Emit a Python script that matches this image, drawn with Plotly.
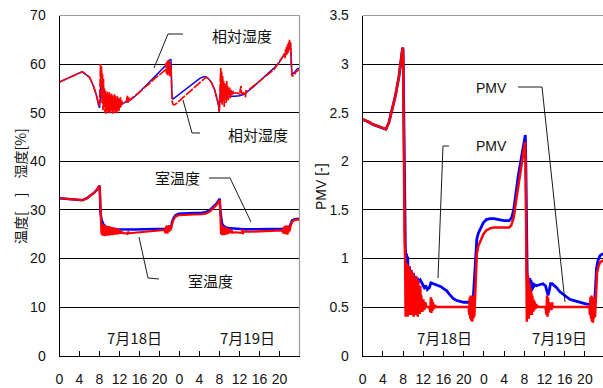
import plotly.graph_objects as go

W, H = 603, 388

# ---------------- data (hours since 7/18 0:00) ----------------
xtick_vals = [0, 4, 8, 12, 16, 20, 24, 28, 32, 36, 40, 44]
xtick_text = ["0", "4", "8", "12", "16", "20", "0", "4", "8", "12", "16", "20"]

rh_blue = [(0,56.3),(1,56.8),(2,57.3),(3,57.8),(4,58.2),(4.6,58.4),(5.2,58.0),(6,57.3),(6.8,55.5),(7.4,53.6),(7.8,51.5),(8.0,51.0),
           (8.1,52),(8.3,56),(8.5,53),(8.8,52.5),(9.5,52),(10.5,51.8),(11.5,51.6),(12.5,51.8),(13.5,52.2),(14,52.5),(15,53.3),(16,54.2),
           (17,55.3),(18,56.3),(19,57.4),(20,58.4),(20.8,59.3),(21.5,60),(22,60.8),(22.3,61),(22.4,57),(22.5,53.5),(22.7,52.8),(23.2,53.2),
           (24,53.8),(25,54.6),(26,55.4),(27,56.2),(28,57),(28.8,57.4),(29.3,57.4),(29.8,57),(30.4,56.2),(31,54.8),(31.5,53),(31.8,51.5),
           (31.95,50.2),(32.1,53),(32.3,57),(32.5,53.5),(33,52.8),(33.5,53.2),(34,53.4),(35,53.4),(36,53.5),(37,53.8),(38,54.6),(39,55.5),
           (40,56.5),(41,57.4),(42,58.3),(43,59.3),(44,60.4),(45,62),(45.5,62.8),(46,63.2),(46.2,64.4),(46.35,60),(46.5,57.8),(47,58.3),
           (47.5,59),(48,59.2)]

rh_red = [(0,56.3),(1,56.8),(2,57.3),(3,57.8),(4,58.2),(4.6,58.4),(5.2,58.0),(6,57.3),(6.8,55.5),(7.4,53.6),(7.8,52.0),(8.0,51.3),
          (8.1,55),(8.2,60.0),(8.3,57),(8.4,59.5),(8.5,52),(8.6,58),(8.7,50.5),(8.8,57),(8.9,51),(9.0,55),
          (9.1,50),(9.2,54.5),(9.3,49.8),(9.4,54),(9.5,50.5),(9.6,54.3),(9.7,50),(9.8,53.8),(9.9,50.2),(10.0,54.2),(10.1,49.9),(10.2,53.5),
          (10.3,50.5),(10.4,54),(10.5,50.2),(10.6,53.6),(10.7,49.8),(10.8,53.2),(10.9,50.6),(11.0,53.8),(11.1,50),(11.2,53.5),(11.3,50.4),
          (11.4,53),(11.5,49.9),(11.6,53.4),(11.7,50.8),(11.8,53),(11.9,50.3),(12.0,52.8),(12.1,51),(12.2,53.2),(12.3,51.2),(12.4,52.5),
          (12.6,51.8),(13,52.2),(13.4,52.4),(13.6,53.5),(13.7,52),(13.8,53.2),(14,52.6),(15,53.4),(16,54.2),(17,55.2),(18,56.0),(19,57),
          (20,57.8),(20.8,58.3),(21.2,58.8),(21.3,60.2),(21.4,58),(21.5,60.5),(21.6,57.6),(21.7,60.8),(21.8,58.2),(21.9,61),(22.0,57.5),
          (22.1,60.5),(22.2,58),(22.3,59.5),(22.4,55),(22.5,52.5),(22.7,51.7),(23,51.6),(23.5,52),(24,52.5),(25,53.4),(26,54.3),(27,55.2),
          (28,56.2),(28.8,57),(29.3,57.3),(29.8,57),(30.4,56.2),(31,54.8),(31.5,53),(31.8,51.8),(31.95,50.2),
          (32.05,53),(32.15,57),(32.25,59.2),(32.35,52),(32.45,58.5),(32.55,51.5),(32.65,57.5),(32.75,52.5),(32.85,56.5),(32.95,51.2),
          (33.05,56),(33.15,52.8),(33.25,55.8),(33.35,52),(33.45,56.5),(33.55,53),(33.65,55.5),(33.75,52.5),(33.85,55),(33.95,53.5),
          (34.05,55.2),(34.15,53),(34.3,54.8),(34.45,53.6),(34.6,54.6),(34.8,54),(35.5,54.1),(36,53.8),(36.3,55.5),(36.4,53.9),(36.8,54.1),
          (37.2,53.2),(37.3,54.5),(37.6,54.5),(38.2,55),(38.8,55.5),(39.5,56.2),(40.2,56.8),(40.8,57.3),(41.5,57.9),(42.2,58.4),(42.8,58.8),
          (43.4,59.6),(44,60.5),(44.4,61.2),(44.8,61.8),(45,62.3),(45.1,61.2),(45.2,63),(45.3,61.8),(45.4,63.5),(45.5,62),(45.6,64),
          (45.7,62.3),(45.8,64.5),(45.9,62.8),(46,65),(46.1,63),(46.2,64.5),(46.35,60),(46.5,57.6),(46.8,57.6),(47,58),(47.3,58.4),
          (47.6,58.6),(48,59)]

temp_blue = [(0,32.4),(1,32.3),(2,32.2),(3,32.1),(4,32.0),(4.6,32.0),(5.5,32.4),(6.3,33),(7,33.6),(7.6,34.3),(8.0,35.0),(8.1,33),
             (8.2,29.5),(8.4,28),(8.6,27.5),(8.8,27),(9.2,26.6),(9.8,26.3),(10.5,26.1),(11.5,26.0),(13,25.95),(15,25.95),(17,26),(19,26),
             (21,26.05),(22,26.1),(22.3,26.3),(22.5,27.5),(22.8,28.3),(23.2,28.9),(23.8,29.2),(25,29.3),(27,29.35),(28.5,29.4),(29.2,29.5),
             (30,29.9),(30.8,30.6),(31.4,31.3),(31.9,32.1),(32.05,32.3),(32.15,30),(32.3,28),(32.5,27.2),(32.8,26.7),(33.3,26.4),(34,26.2),
             (35,26.1),(37,26),(39,26),(41,26),(43,26),(45,26),(45.9,26.1),(46.2,27),(46.5,27.8),(47,28.1),(47.5,28.2),(48,28.2)]

temp_red = [(0,32.4),(1,32.3),(2,32.2),(3,32.1),(4,32.0),(4.6,32.0),(5.5,32.4),(6.3,33),(7,33.6),(7.6,34.3),(8.0,35.0),(8.1,33),
            (8.2,29),(8.3,27.5),(8.4,25),(8.5,27.2),(8.6,24.7),(8.7,27),(8.8,24.8),(8.9,26.8),(9.0,24.6),(9.1,26.9),(9.2,24.8),(9.3,26.5),
            (9.4,24.7),(9.5,26.7),(9.6,24.9),(9.7,26.4),(9.8,24.7),(9.9,26.6),(10.0,24.9),(10.1,26.3),(10.2,24.8),(10.3,26.5),(10.4,25),
            (10.5,26.2),(10.6,24.8),(10.7,26.4),(10.8,25),(10.9,26.1),(11.0,24.9),(11.1,26.3),(11.2,25.1),(11.3,26),(11.4,24.9),(11.5,26.2),
            (11.6,25.1),(11.7,25.9),(11.8,25),(11.9,26),(12.0,25.2),(12.1,25.8),(12.2,25.1),(12.4,25.6),(12.7,25.2),(13.5,25.2),(13.6,24.9),
            (13.7,25.5),(14,25.2),(15,25.3),(16,25.4),(17,25.5),(18,25.6),(19,25.7),(20,25.8),(21,25.9),(21.2,25.2),(21.3,26.6),(21.4,25.3),
            (21.5,26.8),(21.6,25.1),(21.7,26.7),(21.8,25.4),(21.9,26.9),(22,25.6),(22.1,26.5),(22.2,25.8),(22.3,26.4),(22.5,27),(22.8,28),
            (23.2,28.6),(23.8,28.9),(25,29.0),(27,29.05),(28.5,29.1),(29.2,29.2),(30,29.6),(30.8,30.3),(31.4,31),(31.9,31.8),(32.05,32),
            (32.15,30),(32.25,27.5),(32.3,25),(32.4,27),(32.5,24.8),(32.6,26.8),(32.7,24.9),(32.8,26.6),(32.9,24.8),(33.0,26.5),(33.1,25),
            (33.2,26.4),(33.3,24.9),(33.4,26.3),(33.5,25.1),(33.6,26.2),(33.7,25),(33.8,26),(33.9,25.2),(34.0,26.1),(34.2,25.2),(34.4,25.9),
            (34.6,25.3),(35,25.4),(36,25.4),(36.5,25.3),(36.6,26),(36.7,25),(36.8,25.6),(37.5,25.5),(38.5,25.5),(40,25.6),(41.5,25.7),
            (43,25.8),(44.5,25.8),(44.8,25.2),(44.9,26.5),(45,25.1),(45.1,26.7),(45.2,25),(45.3,26.8),(45.4,25.2),(45.5,26.6),(45.6,24.9),
            (45.7,26.8),(45.8,25.3),(45.9,26.5),(46,25.6),(46.1,26.4),(46.3,27),(46.6,27.6),(47,27.9),(47.5,28),(48,28)]

pmv_blue = [(0,2.43),(1,2.41),(2,2.38),(3,2.36),(4,2.34),(4.6,2.33),(5.2,2.4),(5.8,2.52),(6.5,2.68),(7.2,2.88),(7.6,3.05),(7.9,3.17),
            (8.0,3.15),(8.1,2.6),(8.2,2.0),(8.3,1.5),(8.45,1.1),(8.6,0.95),(8.7,1.05),(8.8,0.88),(8.9,1.02),(9.0,0.85),(9.2,0.92),(9.4,0.86),
            (9.6,0.88),(9.8,0.8),(10,0.85),(10.2,0.78),(10.4,0.82),(10.6,0.77),(10.8,0.8),(11,0.76),(11.4,0.78),(11.8,0.74),(12.2,0.7),
            (12.5,0.72),(12.8,0.68),(13.2,0.7),(13.5,0.75),(14,0.74),(14.5,0.73),(15,0.72),(15.5,0.71),(16,0.69),(16.6,0.67),(17.2,0.63),
            (17.9,0.59),(18.5,0.57),(19.3,0.56),(20,0.55),(21,0.55),(21.6,0.55),(21.9,0.6),(22.2,0.9),(22.4,1.1),(22.6,1.2),(22.9,1.26),
            (23.4,1.32),(23.9,1.37),(24.5,1.4),(25.2,1.41),(26,1.41),(27,1.4),(28,1.39),(29,1.39),(29.5,1.42),(29.9,1.5),(30.4,1.7),
            (30.8,1.85),(31.3,2.0),(31.8,2.15),(32.2,2.27),(32.3,2.0),(32.4,1.3),(32.5,0.9),(32.6,0.72),(32.7,0.82),(32.8,0.6),(32.9,0.78),
            (33.0,0.62),(33.1,0.8),(33.2,0.65),(33.3,0.78),(33.4,0.66),(33.5,0.76),(33.6,0.68),(33.7,0.75),(33.8,0.7),(34,0.73),(34.4,0.72),
            (35,0.73),(35.7,0.74),(36.2,0.72),(36.5,0.64),(36.7,0.62),(36.9,0.66),(37.2,0.74),(37.5,0.74),(38,0.72),(38.4,0.7),(39,0.66),
            (39.7,0.63),(40.3,0.6),(41,0.58),(41.7,0.57),(42.4,0.56),(43.3,0.54),(44.3,0.53),(45,0.53),(45.9,0.53),(46.1,0.7),(46.3,0.9),
            (46.6,0.98),(47,1.03),(47.6,1.05)]

pmv_red = [(0,2.43),(1,2.41),(2,2.38),(3,2.36),(4,2.34),(4.6,2.33),(5.2,2.4),(5.8,2.52),(6.5,2.68),(7.2,2.88),(7.6,3.05),(7.9,3.17),
           (8.0,3.1),(8.05,2.7),(8.1,2.0),(8.15,2.6),(8.2,1.8),(8.3,1.2),(8.4,1.0),(8.5,0.4),(8.6,0.9),(8.7,0.45),(8.8,0.95),(8.9,0.4),
           (9.0,0.85),(9.1,0.45),(9.2,0.92),(9.3,0.42),(9.4,0.8),(9.5,0.5),(9.6,0.88),(9.7,0.42),(9.8,0.78),(9.9,0.48),(10.0,0.85),
           (10.1,0.4),(10.2,0.8),(10.3,0.45),(10.4,0.75),(10.5,0.42),(10.6,0.82),(10.7,0.46),(10.8,0.72),(10.9,0.4),(11.0,0.78),(11.1,0.45),
           (11.2,0.7),(11.3,0.43),(11.4,0.72),(11.5,0.48),(11.6,0.62),(11.8,0.45),(12.0,0.58),(12.2,0.47),(12.4,0.55),(12.6,0.5),(13.2,0.5),
           (13.4,0.45),(13.5,0.6),(13.6,0.44),(13.7,0.58),(13.8,0.46),(13.9,0.55),(14.1,0.48),(14.3,0.52),(14.6,0.5),(15.5,0.5),(16.5,0.5),
           (17.5,0.5),(18.5,0.5),(19.5,0.5),(20.5,0.5),(21.0,0.5),(21.1,0.42),(21.2,0.6),(21.3,0.38),(21.4,0.62),(21.5,0.36),(21.6,0.6),
           (21.7,0.35),(21.8,0.62),(21.9,0.38),(22.0,0.6),(22.1,0.4),(22.2,0.58),(22.3,0.5),(22.4,0.9),(22.6,1.05),(22.9,1.13),(23.4,1.2),
           (23.9,1.25),(24.5,1.29),(25.2,1.31),(26,1.32),(27,1.32),(28,1.32),(29,1.32),(29.4,1.34),(29.9,1.42),(30.4,1.6),(30.8,1.75),
           (31.3,1.92),(31.8,2.08),(32.15,2.2),(32.25,2.0),(32.35,1.4),(32.45,0.9),(32.5,0.35),(32.6,0.85),(32.7,0.4),(32.8,0.8),(32.9,0.38),
           (33.0,0.75),(33.1,0.42),(33.2,0.7),(33.3,0.45),(33.4,0.65),(33.5,0.42),(33.6,0.62),(33.7,0.45),(33.8,0.58),(33.9,0.46),(34.0,0.56),
           (34.2,0.48),(34.4,0.52),(34.8,0.5),(35.5,0.5),(36.2,0.5),(36.4,0.42),(36.5,0.62),(36.6,0.4),(36.7,0.6),(36.8,0.44),(36.9,0.55),
           (37.1,0.5),(37.4,0.47),(37.5,0.55),(37.6,0.5),(38.5,0.5),(39.5,0.5),(40.5,0.5),(41.5,0.5),(42.5,0.5),(43.5,0.5),(44.5,0.5),
           (44.9,0.5),(45.0,0.42),(45.1,0.6),(45.2,0.38),(45.3,0.62),(45.4,0.35),(45.5,0.58),(45.6,0.34),(45.7,0.6),(45.8,0.38),(45.9,0.55),
           (46.0,0.4),(46.1,0.5),(46.2,0.7),(46.4,0.85),(46.7,0.92),(47,0.96),(47.6,0.98)]

BLUE = "#0000FF"
RED = "#FF0000"


def unzip(pairs):
    return [p[0] for p in pairs], [p[1] for p in pairs]


def px(x):
    return x / W


def py(y):
    return 1 - y / H


fig = go.Figure()

for pairs, color, width, dash, xa, ya in [
    (rh_blue, BLUE, 1.4, "solid", "x", "y"),
    (temp_blue, BLUE, 2.5, "solid", "x", "y"),
    (rh_red, RED, 1.7, "9px,1.5px", "x", "y"),
    (temp_red, RED, 2.2, "solid", "x", "y"),
    (pmv_blue, BLUE, 2.8, "solid", "x2", "y2"),
    (pmv_red, RED, 2.5, "solid", "x2", "y2"),
]:
    t, v = unzip(pairs)
    fig.add_trace(go.Scatter(x=t, y=v, mode="lines", line=dict(color=color, width=width, dash=dash),
                             xaxis=xa, yaxis=ya, showlegend=False, hoverinfo="skip"))

L0, L1 = 59.5, 299.5
R0 = 362.7
TOP, BOT = 15.5, 355.7

tickfont = dict(family="Liberation Sans, Arial, sans-serif", size=14, color="#111")
common_x = dict(tickvals=xtick_vals, ticktext=xtick_text, ticks="inside", ticklen=5, tickcolor="black",
                showline=True, linecolor="black", linewidth=1, showgrid=False, zeroline=False,
                tickfont=tickfont, ticklabelstandoff=10)
fig.update_layout(
    width=W, height=H,
    margin=dict(l=0, r=0, t=0, b=0, autoexpand=False),
    paper_bgcolor="white", plot_bgcolor="white",
    xaxis=dict(domain=[px(L0), px(L1)], range=[0, 48], anchor="y", **common_x),
    xaxis2=dict(domain=[px(R0), 1.0], range=[0, (W - R0) / 5.05], anchor="y2", **common_x),
    yaxis=dict(domain=[py(BOT), py(TOP)], range=[0, 70], dtick=10, anchor="x", showgrid=True, gridcolor="black",
               gridwidth=1, showline=True, linecolor="black", zeroline=False, ticks="", tickfont=tickfont,
               ticklabelstandoff=10),
    yaxis2=dict(domain=[py(BOT), py(TOP)], range=[0, 3.5], dtick=0.5, tickformat="~g", anchor="x2", showgrid=True,
                gridcolor="black", gridwidth=1, showline=True, linecolor="black", zeroline=False, ticks="",
                tickfont=tickfont, ticklabelstandoff=10),
)

shapes = []
gray = "#999999"
shapes.append(dict(type="line", xref="paper", yref="paper", x0=px(L0), x1=px(L1), y0=py(TOP), y1=py(TOP),
                   line=dict(color=gray, width=1.2)))
shapes.append(dict(type="line", xref="paper", yref="paper", x0=px(L1), x1=px(L1), y0=py(TOP), y1=py(BOT),
                   line=dict(color=gray, width=1.2)))
shapes.append(dict(type="line", xref="paper", yref="paper", x0=px(R0), x1=1.0, y0=py(TOP), y1=py(TOP),
                   line=dict(color=gray, width=1.2)))

leaders = [
    [(183, 34), (168, 34), (154, 68)],
    [(183, 100), (192, 133), (200, 133)],
    [(209, 178), (230, 178), (251, 222)],
    [(139, 237), (148, 278), (159, 279)],
    [(518, 87), (542, 87), (565, 302)],
    [(449, 146), (443, 146), (438, 278)],
]
for pts in leaders:
    path = "M " + " L ".join(f"{px(x):.5f},{py(y):.5f}" for x, y in pts)
    shapes.append(dict(type="path", xref="paper", yref="paper", path=path, line=dict(color="black", width=0.9)))
fig.update_layout(shapes=shapes)

jp = "Noto Sans CJK JP, sans-serif"
labels = [
    ("相対湿度", 241.7, 35, jp, 15),
    ("相対湿度", 257.5, 134, jp, 15),
    ("室温度", 177, 178, jp, 15),
    ("室温度", 210, 280, jp, 15),
    ("7月18日", 134.5, 337, jp, 15),
    ("7月19日", 247, 337, jp, 15),
    ("PMV", 492, 88, "Liberation Sans, Arial, sans-serif", 14),
    ("PMV", 492, 146, "Liberation Sans, Arial, sans-serif", 14),
    ("7月18日", 444.5, 337, jp, 15),
    ("7月19日", 559, 337, jp, 15),
]
annotations = []
for text, x, y, fam, size in labels:
    annotations.append(dict(text=text, x=px(x), y=py(y), xref="paper", yref="paper", showarrow=False,
                            xanchor="center", yanchor="middle", font=dict(family=fam, size=size, color="#111")))
annotations.append(dict(text="温度[　]　湿度[%]", x=px(20), y=py(186), xref="paper", yref="paper", showarrow=False,
                        textangle=-90, xanchor="center", yanchor="middle", font=dict(family=jp, size=14, color="#111")))
annotations.append(dict(text="PMV [-]", x=px(321), y=py(187), xref="paper", yref="paper", showarrow=False,
                        textangle=-90, xanchor="center", yanchor="middle",
                        font=dict(family="Liberation Sans, Arial, sans-serif", size=14, color="#111")))
fig.update_layout(annotations=annotations)

fig.write_html("out.html", config={"displayModeBar": False},
               post_script="document.body.style.margin='0';document.body.style.overflow='hidden';")
